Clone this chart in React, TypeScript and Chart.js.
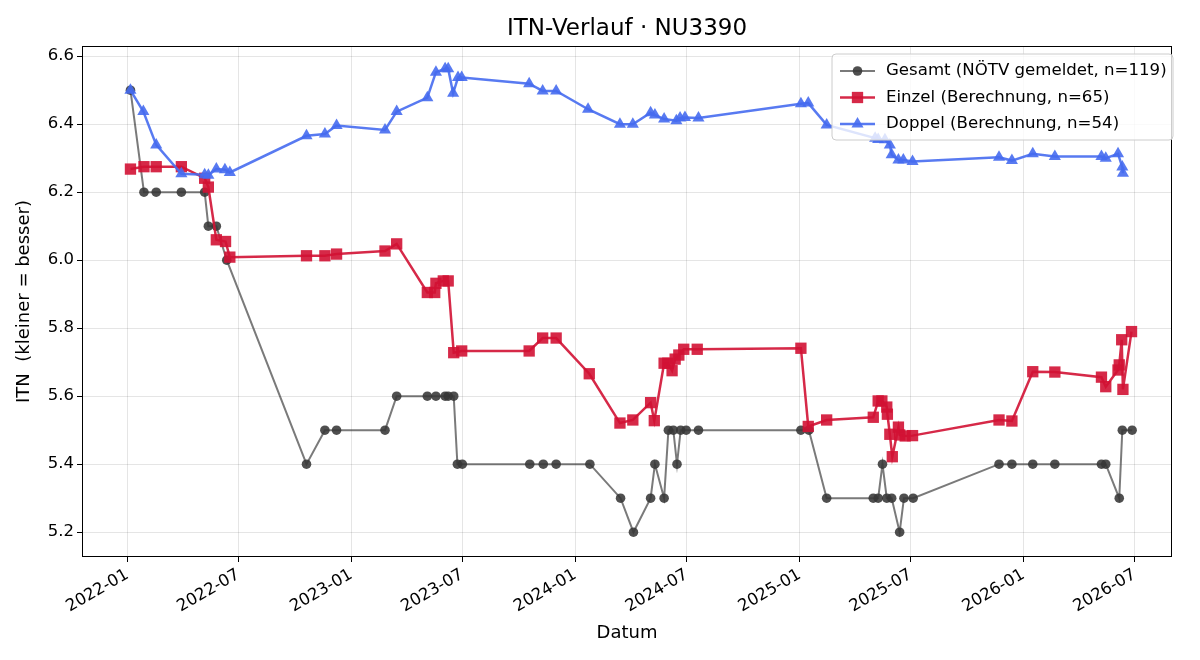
import React, { useEffect, useRef } from 'react';
import { Chart, registerables } from 'chart.js';

Chart.register(...registerables);

// ---------- data ----------
const gesamtDates = [
  '2022-01-06', '2022-01-28', '2022-02-17', '2022-03-30', '2022-05-07', '2022-05-13', '2022-05-26', '2022-06-12',
  '2022-10-20', '2022-11-19', '2022-12-08', '2023-02-25', '2023-03-16', '2023-05-05', '2023-05-19', '2023-06-03',
  '2023-06-08', '2023-06-17', '2023-06-23', '2023-07-01', '2023-10-19', '2023-11-10', '2023-12-01', '2024-01-25',
  '2024-03-15', '2024-04-05', '2024-05-03', '2024-05-10', '2024-05-25', '2024-06-01', '2024-06-09', '2024-06-15',
  '2024-06-21', '2024-06-30', '2024-07-20', '2025-01-03', '2025-01-16', '2025-02-14', '2025-05-01', '2025-05-09',
  '2025-05-16', '2025-05-23', '2025-05-31', '2025-06-13', '2025-06-20', '2025-07-05', '2025-11-22', '2025-12-13',
  '2026-01-16', '2026-02-21', '2026-05-08', '2026-05-15', '2026-06-06', '2026-06-11', '2026-06-27',
];
const gesamtValues = [
  6.5, 6.2, 6.2, 6.2, 6.2, 6.1, 6.1, 6.0,
  5.4, 5.5, 5.5, 5.5, 5.6, 5.6, 5.6, 5.6,
  5.6, 5.6, 5.4, 5.4, 5.4, 5.4, 5.4, 5.4,
  5.3, 5.2, 5.3, 5.4, 5.3, 5.5, 5.5, 5.4,
  5.5, 5.5, 5.5, 5.5, 5.5, 5.3, 5.3, 5.3,
  5.4, 5.3, 5.3, 5.2, 5.3, 5.3, 5.4, 5.4,
  5.4, 5.4, 5.4, 5.4, 5.3, 5.5, 5.5,
];

const einzelDates = [
  '2022-01-06', '2022-01-28', '2022-02-17', '2022-03-30', '2022-05-07', '2022-05-13', '2022-05-26', '2022-06-10',
  '2022-06-17', '2022-10-20', '2022-11-19', '2022-12-08', '2023-02-25', '2023-03-16', '2023-05-05', '2023-05-17',
  '2023-05-19', '2023-05-31', '2023-06-08', '2023-06-17', '2023-06-30', '2023-10-18', '2023-11-09', '2023-12-01',
  '2024-01-24', '2024-03-14', '2024-04-04', '2024-05-03', '2024-05-09', '2024-05-25', '2024-05-31', '2024-06-07',
  '2024-06-12', '2024-06-18', '2024-06-26', '2024-07-18', '2025-01-03', '2025-01-15', '2025-02-14', '2025-05-01',
  '2025-05-09', '2025-05-15', '2025-05-23', '2025-05-24', '2025-05-28', '2025-06-01', '2025-06-11', '2025-06-13',
  '2025-06-22', '2025-07-04', '2025-11-22', '2025-12-13', '2026-01-16', '2026-02-21', '2026-05-08', '2026-05-15',
  '2026-06-04', '2026-06-06', '2026-06-10', '2026-06-12', '2026-06-26',
];
const einzelValues = [
  6.268, 6.275, 6.275, 6.275, 6.241, 6.215, 6.06, 6.055,
  6.009, 6.013, 6.013, 6.018, 6.027, 6.048, 5.905, 5.905,
  5.932, 5.939, 5.939, 5.728, 5.733, 5.733, 5.771, 5.771,
  5.666, 5.521, 5.53, 5.581, 5.528, 5.697, 5.697, 5.675,
  5.709, 5.721, 5.738, 5.738, 5.741, 5.511, 5.53, 5.538,
  5.586, 5.586, 5.568, 5.547, 5.488, 5.422, 5.509, 5.486,
  5.483, 5.484, 5.53, 5.527, 5.672, 5.671, 5.656, 5.628,
  5.677, 5.692, 5.766, 5.62, 5.79,
];

const doppelDates = [
  '2022-01-06', '2022-01-27', '2022-02-17', '2022-03-30', '2022-05-07', '2022-05-13', '2022-05-26', '2022-06-09',
  '2022-06-17', '2022-10-20', '2022-11-19', '2022-12-08', '2023-02-25', '2023-03-16', '2023-05-05', '2023-05-19',
  '2023-06-03', '2023-06-08', '2023-06-16', '2023-06-24', '2023-06-30', '2023-10-18', '2023-11-09', '2023-12-01',
  '2024-01-22', '2024-03-14', '2024-04-04', '2024-05-03', '2024-05-10', '2024-05-25', '2024-06-14', '2024-06-20',
  '2024-06-28', '2024-07-20', '2025-01-03', '2025-01-15', '2025-02-14', '2025-05-04', '2025-05-09', '2025-05-20',
  '2025-05-28', '2025-05-31', '2025-06-11', '2025-06-19', '2025-07-04', '2025-11-22', '2025-12-13', '2026-01-16',
  '2026-02-21', '2026-05-08', '2026-05-15', '2026-06-04', '2026-06-11', '2026-06-12',
];
const doppelValues = [
  6.5, 6.437, 6.339, 6.254, 6.251, 6.25, 6.268, 6.266,
  6.258, 6.366, 6.371, 6.396, 6.383, 6.437, 6.478, 6.553,
  6.563, 6.563, 6.491, 6.537, 6.537, 6.519, 6.498, 6.498,
  6.444, 6.4, 6.4, 6.434, 6.427, 6.415, 6.41, 6.418,
  6.42, 6.418, 6.46, 6.462, 6.398, 6.359, 6.355, 6.354,
  6.339, 6.31, 6.295, 6.295, 6.29, 6.303, 6.293, 6.313,
  6.305, 6.305, 6.3, 6.313, 6.274, 6.256,
];

const xTickDates = [
  '2022-01-01', '2022-07-01', '2023-01-01', '2023-07-01', '2024-01-01',
  '2024-07-01', '2025-01-01', '2025-07-01', '2026-01-01', '2026-07-01',
];
const xTickLabels = [
  '2022-01', '2022-07', '2023-01', '2023-07', '2024-01',
  '2024-07', '2025-01', '2025-07', '2026-01', '2026-07',
];
const yTickValues = [5.2, 5.4, 5.6, 5.8, 6.0, 6.2, 6.4, 6.6];
const xRange = ['2021-10-19', '2026-08-31'];
const yRange = [5.127, 6.63];

const titleText = 'ITN-Verlauf · NU3390';
const xTitle = 'Datum';
const yTitle = 'ITN  (kleiner = besser)';
const legendLabels = [
  'Gesamt (NÖTV gemeldet, n=119)',
  'Einzel (Berechnung, n=65)',
  'Doppel (Berechnung, n=54)',
];

// ---------- helpers ----------
const BASE = Date.UTC(2022, 0, 1);
function day(s: string): number {
  const [y, m, d] = s.split('-').map(Number);
  return (Date.UTC(y, m - 1, d) - BASE) / 86400000;
}
function pts(dates: string[], vals: number[]) {
  return dates.map((d, i) => ({ x: day(d), y: vals[i] }));
}

const FONT = '"DejaVu Sans", "Liberation Sans", sans-serif';
const TICK_SIZE = 16.5;
const LEGEND_SIZE = 16.6;
const AXIS_TITLE_SIZE = 18;
const TITLE_SIZE = 23;

const GRAY_LINE = 'rgba(51,51,51,0.65)';
const GRAY_PT = 'rgba(55,55,55,0.88)';
const RED = 'rgba(210,18,52,0.9)';
const BLUE = 'rgba(70,108,240,0.9)';

function drawMarker(ctx: CanvasRenderingContext2D, style: string, x: number, y: number, r: number, color: string) {
  ctx.fillStyle = color;
  ctx.beginPath();
  if (style === 'circle') {
    ctx.arc(x, y, r, 0, Math.PI * 2);
  } else if (style === 'rect') {
    const s = r * Math.SQRT1_2;
    ctx.rect(x - s, y - s, 2 * s, 2 * s);
  } else {
    ctx.moveTo(x, y - r);
    ctx.lineTo(x + r * Math.sin((2 * Math.PI) / 3), y - r * Math.cos((2 * Math.PI) / 3));
    ctx.lineTo(x + r * Math.sin((4 * Math.PI) / 3), y - r * Math.cos((4 * Math.PI) / 3));
    ctx.closePath();
  }
  ctx.fill();
}

const decorPlugin = {
  id: 'decor',
  afterDatasetsDraw(chart: any) {
    const { ctx, chartArea: a } = chart;
    ctx.save();
    // frame (spines)
    ctx.strokeStyle = '#000';
    ctx.lineWidth = 1;
    const l = Math.round(a.left) + 0.5;
    const t = Math.round(a.top) + 0.5;
    const r = Math.round(a.right) - 0.5;
    const b = Math.round(a.bottom) - 0.5;
    ctx.strokeRect(l, t, r - l, b - t);

    // legend
    const bx = 832, by = 54, bw = 341, bh = 86;
    ctx.fillStyle = 'rgba(255,255,255,0.8)';
    ctx.strokeStyle = 'rgba(204,204,204,1)';
    ctx.beginPath();
    const rad = 4;
    ctx.moveTo(bx + rad, by);
    ctx.lineTo(bx + bw - rad, by);
    ctx.arcTo(bx + bw, by, bx + bw, by + rad, rad);
    ctx.lineTo(bx + bw, by + bh - rad);
    ctx.arcTo(bx + bw, by + bh, bx + bw - rad, by + bh, rad);
    ctx.lineTo(bx + rad, by + bh);
    ctx.arcTo(bx, by + bh, bx, by + bh - rad, rad);
    ctx.lineTo(bx, by + rad);
    ctx.arcTo(bx, by, bx + rad, by, rad);
    ctx.closePath();
    ctx.fill();
    ctx.stroke();

    const items = [
      { line: GRAY_LINE, pt: GRAY_PT, style: 'circle', r: 4.8, lw: 2 },
      { line: RED, pt: RED, style: 'rect', r: 8, lw: 2.5 },
      { line: BLUE, pt: BLUE, style: 'triangle', r: 7, lw: 2.5 },
    ];
    const rowY = [71, 97.5, 124];
    items.forEach((it, i) => {
      const y = rowY[i];
      ctx.strokeStyle = it.line;
      ctx.lineWidth = it.lw;
      ctx.beginPath();
      ctx.moveTo(840, y);
      ctx.lineTo(875, y);
      ctx.stroke();
      drawMarker(ctx, it.style, 857.5, y, it.r, it.pt);
      ctx.fillStyle = '#000';
      ctx.font = `${LEGEND_SIZE}px ${FONT}`;
      ctx.textAlign = 'left';
      ctx.textBaseline = 'middle';
      ctx.fillText(legendLabels[i], 886, y);
    });

    // title
    ctx.fillStyle = '#000';
    ctx.font = `${TITLE_SIZE}px ${FONT}`;
    ctx.textAlign = 'center';
    ctx.textBaseline = 'middle';
    ctx.fillText(titleText, (a.left + a.right) / 2, 29);
    ctx.restore();
  },
};

export default function App() {
  const ref = useRef<HTMLCanvasElement | null>(null);

  useEffect(() => {
    if (!ref.current) return;
    const chart = new Chart(ref.current, {
      type: 'line',
      data: {
        datasets: [
          {
            label: legendLabels[2],
            data: pts(doppelDates, doppelValues),
            borderColor: BLUE,
            backgroundColor: BLUE,
            pointBackgroundColor: BLUE,
            pointBorderColor: BLUE,
            borderWidth: 2.5,
            pointStyle: 'triangle',
            pointRadius: 7,
            pointBorderWidth: 0,
            order: 1,
            tension: 0,
          },
          {
            label: legendLabels[1],
            data: pts(einzelDates, einzelValues),
            borderColor: RED,
            backgroundColor: RED,
            pointBackgroundColor: RED,
            pointBorderColor: RED,
            borderWidth: 2.5,
            pointStyle: 'rect',
            pointRadius: 8,
            pointBorderWidth: 0,
            order: 2,
            tension: 0,
          },
          {
            label: legendLabels[0],
            data: pts(gesamtDates, gesamtValues),
            borderColor: GRAY_LINE,
            backgroundColor: GRAY_PT,
            pointBackgroundColor: GRAY_PT,
            pointBorderColor: GRAY_PT,
            borderWidth: 2,
            pointStyle: 'circle',
            pointRadius: 4.8,
            pointBorderWidth: 0,
            order: 3,
            tension: 0,
          },
        ],
      },
      options: {
        animation: false,
        responsive: false,
        devicePixelRatio: 1,
        layout: { padding: { top: 46, right: 28, left: 0, bottom: 0 } },
        plugins: {
          legend: { display: false },
          title: { display: false },
          tooltip: { enabled: false },
        },
        scales: {
          x: {
            type: 'linear',
            min: day(xRange[0]),
            max: day(xRange[1]),
            afterBuildTicks: (scale: any) => {
              scale.ticks = xTickDates.map((d) => ({ value: day(d) }));
            },
            afterFit: (scale: any) => {
              scale.height = 103;
            },
            ticks: {
              autoSkip: false,
              minRotation: 30,
              maxRotation: 30,
              padding: 3,
              color: '#000',
              font: { family: FONT, size: TICK_SIZE },
              callback: (v: any) => {
                const idx = xTickDates.findIndex((d) => day(d) === v);
                return idx >= 0 ? xTickLabels[idx] : '';
              },
            },
            grid: {
              color: 'rgba(0,0,0,0.1)',
              tickColor: '#000',
              tickLength: 5,
              drawTicks: true,
            },
            border: { display: false },
            title: {
              display: true,
              text: xTitle,
              color: '#000',
              font: { family: FONT, size: AXIS_TITLE_SIZE },
              padding: { top: 4, bottom: 16 },
            },
          },
          y: {
            type: 'linear',
            min: yRange[0],
            max: yRange[1],
            afterBuildTicks: (scale: any) => {
              scale.ticks = yTickValues.map((v) => ({ value: v }));
            },
            afterFit: (scale: any) => {
              scale.width = 82;
            },
            ticks: {
              padding: 3,
              color: '#000',
              font: { family: FONT, size: TICK_SIZE },
              callback: (v: any) => Number(v).toFixed(1),
            },
            grid: {
              color: 'rgba(0,0,0,0.1)',
              tickColor: '#000',
              tickLength: 5,
              drawTicks: true,
            },
            border: { display: false },
            title: {
              display: true,
              text: yTitle,
              color: '#000',
              font: { family: FONT, size: AXIS_TITLE_SIZE },
              padding: { top: 14, bottom: 4 },
            },
          },
        },
      },
      plugins: [decorPlugin],
    } as any);
    return () => chart.destroy();
  }, []);

  return (
    <div style={{ position: 'fixed', left: 0, top: 0, width: 1200, height: 660, background: '#fff' }}>
      <canvas ref={ref} width={1200} height={660} style={{ display: 'block', width: 1200, height: 660 }} />
    </div>
  );
}
